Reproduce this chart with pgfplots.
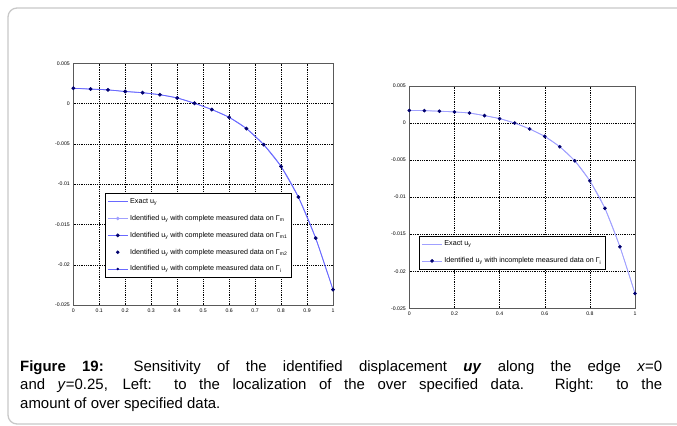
\documentclass[border=0pt]{standalone}
\usepackage{fontspec}
\setmainfont{Liberation Sans}
\usepackage{pgfplots}
\pgfplotsset{compat=1.18}
\usepackage{pgfplotstable}
\definecolor{exactblue}{RGB}{105,105,255}
\definecolor{lightblue}{RGB}{160,160,255}
\definecolor{navy}{RGB}{0,0,110}
\definecolor{framegray}{RGB}{200,200,200}

\pgfplotstableread{
x y
0 0.0019
0.0667 0.0018
0.1333 0.0017
0.2 0.0015
0.2667 0.00135
0.3333 0.0011
0.4 0.0007
0.4667 0.00004
0.5333 -0.00074
0.6 -0.0017
0.6667 -0.0031
0.7333 -0.0051
0.8 -0.0078
0.8667 -0.0116
0.9333 -0.0167
1 -0.0231
}\leftdata

\pgfplotstableread{
x y
0 0.0017
0.0667 0.00167
0.1333 0.0016
0.2 0.0015
0.2667 0.00135
0.3333 0.001
0.4 0.0006
0.4667 0.0
0.5333 -0.0008
0.6 -0.0018
0.6667 -0.0032
0.7333 -0.0051
0.8 -0.0078
0.8667 -0.0115
0.9333 -0.0167
1 -0.023
}\rightdata

\pgfplotsset{
  mlab/.style={
    scale only axis,
    anchor=south west,
    xmin=0, xmax=1, ymin=-0.025, ymax=0.005,
    ytick={-0.025,-0.02,-0.015,-0.01,-0.005,0,0.005},
    scaled ticks=false,
    /pgf/number format/assume math mode=true,
    yticklabel style={/pgf/number format/fixed,/pgf/number format/precision=3},
    xticklabel style={/pgf/number format/fixed,/pgf/number format/precision=1},
    tick label style={font=\fontsize{5.2}{5.5}\selectfont},
    tick align=inside,
    major tick length=2bp,
    tick style={black, line width=0.4bp},
    grid=major,
    major grid style={black, line width=0.4bp, dash pattern=on 0.6bp off 1.2bp},
    axis line style={black!65, line width=0.9bp},
    clip=false,
    legend cell align=left,
    legend style={draw=black, line width=0.8bp, fill=white,
      font=\fontsize{7.2}{7.4}\selectfont, row sep=6.2bp,
      inner xsep=2bp, inner ysep=3bp, anchor=north west},
    legend image code/.code={\draw[mark repeat=2,mark phase=2,#1] plot coordinates {(0bp,0bp) (10bp,0bp) (20bp,0bp)};},
  }
}

\begin{document}
\begin{tikzpicture}
\path[use as bounding box] (0bp,0bp) rectangle (677bp,426bp);
\draw[framegray, line width=1.3bp, rounded corners=9bp] (8bp,2bp) rectangle (700bp,418bp);

\begin{axis}[mlab,
  at={(73.3bp,121bp)}, width=259.7bp, height=241.7bp,
  xtick={0,0.1,0.2,0.3,0.4,0.5,0.6,0.7,0.8,0.9,1},
  legend style={at={(0.122,0.463)}},
]
\addplot[draw=exactblue, line width=0.8bp, smooth] table[x=x,y=y]{\leftdata};
\addlegendentry{Exact u\textsubscript{y}}
\addlegendimage{draw=lightblue, line width=0.8bp, mark=*, mark size=1.3bp, mark options={fill=lightblue, draw=lightblue}}
\addlegendentry{Identified u\textsubscript{y} with complete measured data on Γ\textsubscript{m}}
\addplot[draw=exactblue, line width=0.6bp, mark=*, mark size=1.6bp, mark options={fill=navy, draw=navy}] table[x=x,y=y]{\leftdata};
\addlegendentry{Identified u\textsubscript{y} with complete measured data on Γ\textsubscript{m1}}
\addlegendimage{only marks, mark=*, mark size=1.3bp, mark options={fill=navy, draw=navy}}
\addlegendentry{Identified u\textsubscript{y} with complete measured data on Γ\textsubscript{m2}}
\addlegendimage{draw=exactblue, line width=0.8bp, mark=*, mark size=0.8bp, mark options={fill=navy, draw=navy}}
\addlegendentry{Identified u\textsubscript{y} with complete measured data on Γ\textsubscript{i}}
\end{axis}

\begin{axis}[mlab,
  at={(409.3bp,117.7bp)}, width=225.7bp, height=222.3bp,
  xtick={0,0.2,0.4,0.6,0.8,1},
  legend style={at={(0.044,0.327)}},
]
\addplot[draw=lightblue, line width=0.8bp, smooth] table[x=x,y=y]{\rightdata};
\addlegendentry{Exact u\textsubscript{y}}
\addplot[draw=lightblue, line width=0.6bp, mark=*, mark size=1.5bp, mark options={fill=navy, draw=navy}] table[x=x,y=y]{\rightdata};
\addlegendentry{Identified u\textsubscript{y} with incomplete measured data on Γ\textsubscript{i}}
\end{axis}

\node[anchor=north west, inner sep=0pt, text width=642bp, align=justify,
  font=\fontsize{15}{19}\selectfont] at (20bp,66bp)
{\textbf{Figure 19:} Sensitivity of the identified displacement \textbf{\textit{uy}} along the edge \textit{x}=0\linebreak
and \textit{y}=0.25, Left: to the localization of the over specified data. Right: to the\linebreak
amount of over specified data.};
\end{tikzpicture}
\end{document}
